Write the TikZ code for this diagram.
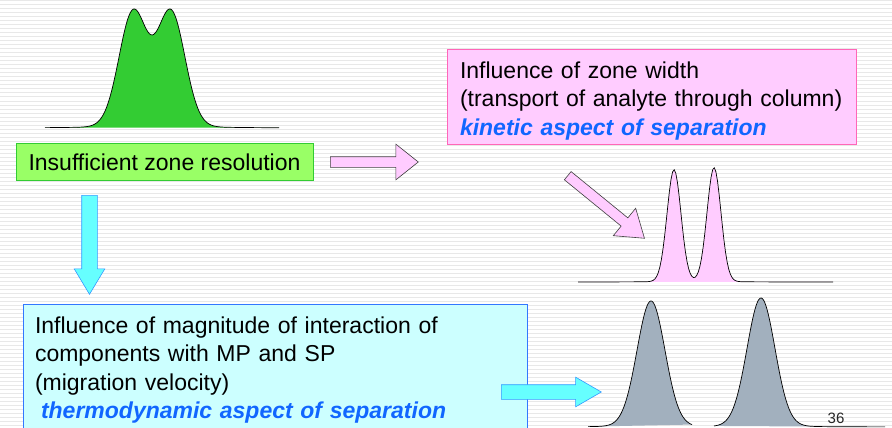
\documentclass[tikz,border=0pt]{standalone}
\usepackage{fontspec}
\setmainfont{Liberation Sans}
\usetikzlibrary{shapes.arrows}

\definecolor{greenfill}{HTML}{99FF66}
\definecolor{greenline}{HTML}{33CC33}
\definecolor{pinkfill}{HTML}{FFCCFF}
\definecolor{pinkline}{HTML}{FF66B8}
\definecolor{cyanfill}{HTML}{CCFFFF}
\definecolor{cyanline}{HTML}{3377FF}
\definecolor{cyanarrfill}{HTML}{66FFFF}
\definecolor{cyanarrline}{HTML}{3399FF}
\definecolor{aspectblue}{HTML}{1166FF}
\definecolor{graypeak}{HTML}{A2B0BE}

\begin{document}
\begin{tikzpicture}[
  x=1pt, y=-1pt,
  font=\fontsize{23}{28.5}\selectfont,
  declare function={g(\z)=exp(-min(0.5*\z*\z,9)); lz(\z)=1/(1+\z*\z);},
  stripe/.style={draw=black!9, line width=1pt},
  box/.style={draw, line width=0.8pt, inner sep=0pt},
  greenbox/.style={box, draw=greenline, fill=greenfill,
                   minimum width=297pt, minimum height=37pt},
  pinkbox/.style={box, draw=pinkline, fill=pinkfill, align=left,
                  text width=383pt, inner xsep=13pt, minimum height=95pt},
  cyanbox/.style={box, draw=cyanline, fill=cyanfill, align=left,
                  text width=480pt, inner xsep=12pt, minimum height=125pt},
  blockarr/.style={single arrow, inner sep=0pt, minimum width=0pt,
                   single arrow head indent=0pt, anchor=tail, line width=0.6pt},
  pinkarr/.style={blockarr, draw=black!75, fill=pinkfill},
  cyanarr/.style={blockarr, draw=cyanarrline, fill=cyanarrfill},
  peak/.style={draw=black, line width=0.7pt, samples=160}
]
  \useasboundingbox (0,0) rectangle (892,428);
  \fill[white] (0,0) rectangle (892,428);
  \foreach \yy in {1,5,...,428}
    \draw[stripe] (0,\yy) -- (892,\yy);

  % unresolved zone
  \draw[peak, fill=greenline] plot[domain=45:279]
    (\x,{128-112*(g((\x-133)/14)+g((\x-171)/14))-3*(lz((\x-133)/25)+lz((\x-171)/25))});
  \node[greenbox] (insuf) at (164.5,162) {Insufficient zone resolution};

  % kinetic branch
  \node[pinkbox] (width) at (651.5,96.5) {\rule{0pt}{25pt}Influence of zone width\\
    (transport of analyte through column)\\
    {\color{aspectblue}\bfseries\itshape kinetic aspect of separation}};
  \node[pinkarr, minimum height=88pt, inner ysep=5pt,
        single arrow head extend=12.5pt, single arrow tip angle=77]
    (toWidth) at (330,162) {};
  \node[pinkarr, rotate=-39.2, minimum height=99pt, inner ysep=5pt,
        single arrow head extend=12.4pt, single arrow tip angle=69]
    (toNarrow) at (567.5,175.5) {};
  \draw[peak, fill=pinkfill] plot[domain=578:833]
    (\x,{282-111*g((\x-674)/7)-113*g((\x-714)/7)-1.2*(lz((\x-674)/12)+lz((\x-714)/12))});

  % thermodynamic branch
  \node[cyanarr, rotate=-90, minimum height=99pt, inner ysep=7.5pt,
        single arrow head extend=7.5pt, single arrow tip angle=62]
    (toInter) at (89.5,195) {};
  \node[cyanbox] (inter) at (275,366.5) {\rule{0pt}{24pt}Influence of magnitude of interaction of\\
    components with MP and SP\\
    (migration velocity)\\
    \hspace*{6pt}{\color{aspectblue}\bfseries\itshape thermodynamic aspect of separation}};
  \node[cyanarr, minimum height=100pt, inner ysep=7pt,
        single arrow head extend=7.5pt, single arrow tip angle=60]
    (toApart) at (501,392) {};
  \draw[peak, fill=graypeak] plot[domain=588:692]
    (\x,{427-122*g((\x-651)/14)-4*lz((\x-651)/20)});
  \draw[peak, fill=graypeak] plot[domain=714:885]
    (\x,{427-125*g((\x-761)/14)-4*lz((\x-761)/20)});

  \node[font=\fontsize{15}{17}\selectfont, text=black!85] (pgnum) at (836,418.5) {36};
\end{tikzpicture}
\end{document}
